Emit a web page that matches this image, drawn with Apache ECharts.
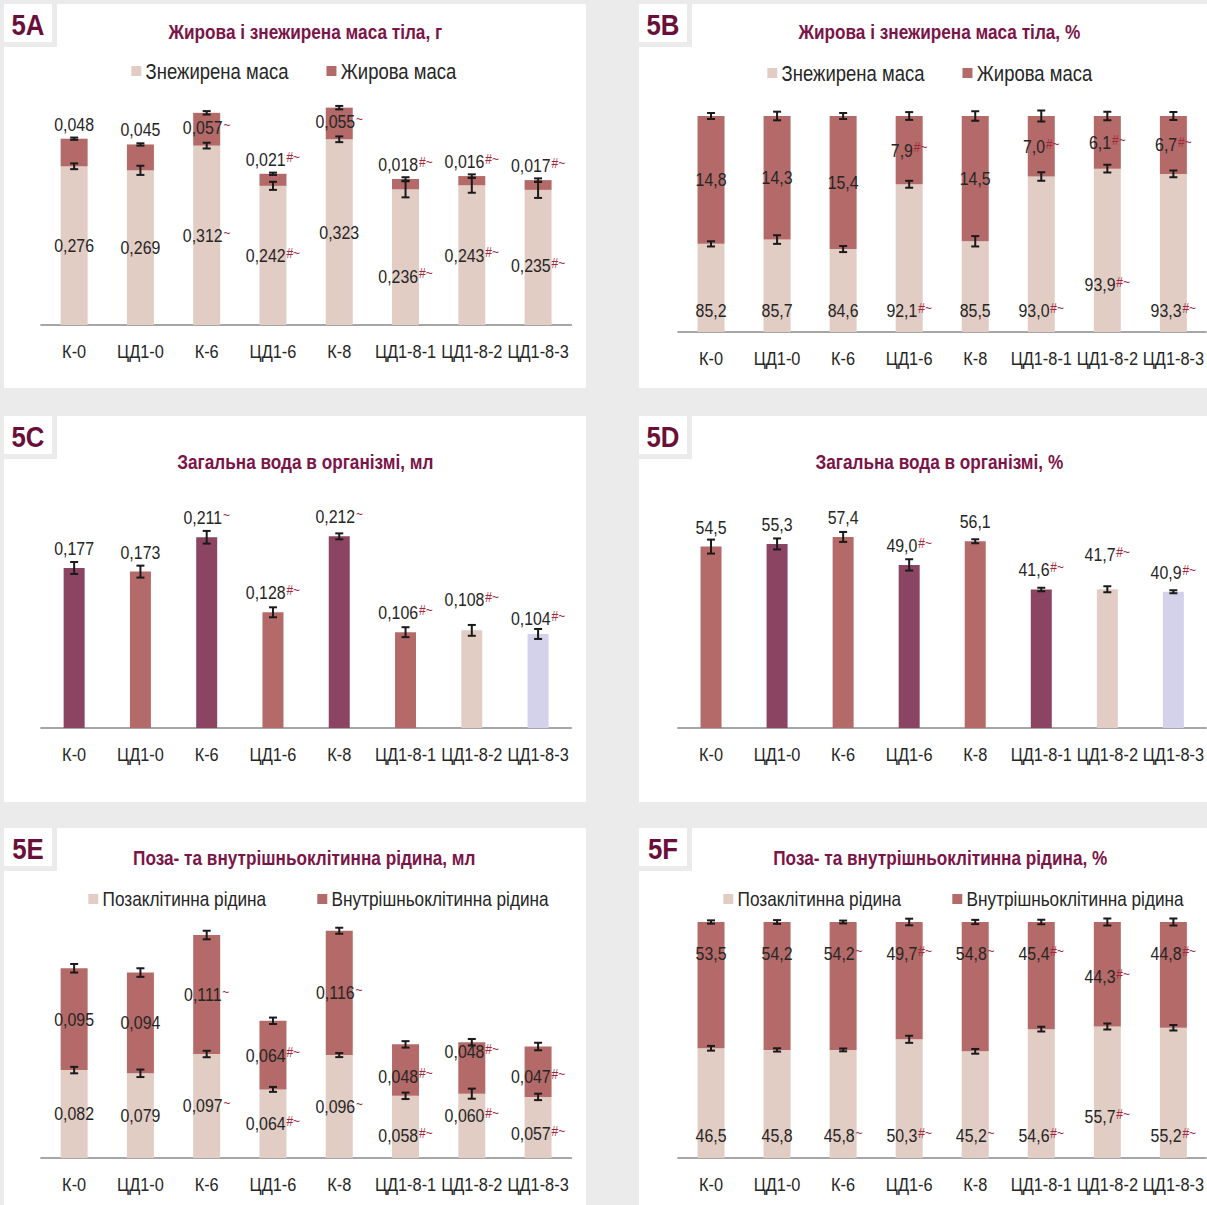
<!DOCTYPE html>
<html>
<head>
<meta charset="utf-8">
<title>Рис. 5</title>
<script src="https://cdn.jsdelivr.net/npm/echarts@6/dist/echarts.min.js"></script>
<style>
  body { margin: 0; background: #ebebeb; width: 1207px; height: 1205px; position: relative; overflow: hidden; }
  .panel { position: absolute; background: #fff; overflow: hidden; }
  .inner { transform-origin: 0 0; }
</style>
</head>
<body>
<div class="panel" style="left:4px;top:4px;width:582px;height:384px"><div id="pA" class="inner"></div></div>
<div class="panel" style="left:639px;top:4px;width:568px;height:384px"><div id="pB" class="inner"></div></div>
<div class="panel" style="left:4px;top:416px;width:582px;height:386px"><div id="pC" class="inner"></div></div>
<div class="panel" style="left:639px;top:416px;width:568px;height:386px"><div id="pD" class="inner"></div></div>
<div class="panel" style="left:4px;top:828px;width:582px;height:377px"><div id="pE" class="inner"></div></div>
<div class="panel" style="left:639px;top:828px;width:568px;height:377px"><div id="pF" class="inner"></div></div>

<script>
  // групи
  var categories = ['К-0', 'ЦД1-0', 'К-6', 'ЦД1-6', 'К-8', 'ЦД1-8-1', 'ЦД1-8-2', 'ЦД1-8-3'];

  // 5A: маса тіла, г
  var leanMassG = [0.276, 0.269, 0.312, 0.242, 0.323, 0.236, 0.243, 0.235];
  var leanMassGErr = [0.005, 0.008, 0.005, 0.007, 0.005, 0.014, 0.013, 0.014];
  var leanMassGMark = ['', '', '~', '#~', '', '#~', '#~', '#~'];
  var fatMassG = [0.048, 0.045, 0.057, 0.021, 0.055, 0.018, 0.016, 0.017];
  var fatMassGErr = [0.002, 0.002, 0.003, 0.002, 0.003, 0.003, 0.003, 0.003];
  var fatMassGMark = ['', '', '~', '#~', '~', '#~', '#~', '#~'];

  // 5B: маса тіла, %
  var leanMassPct = [85.2, 85.7, 84.6, 92.1, 85.5, 93.0, 93.9, 93.3];
  var leanMassPctErr = [0.3, 0.5, 0.35, 0.4, 0.6, 0.5, 0.45, 0.4];
  var leanMassPctMark = ['', '', '', '#~', '', '#~', '#~', '#~'];
  var fatMassPct = [14.8, 14.3, 15.4, 7.9, 14.5, 7.0, 6.1, 6.7];
  var fatMassPctErr = [0.35, 0.5, 0.35, 0.45, 0.55, 0.65, 0.5, 0.45];
  var fatMassPctMark = ['', '', '', '#~', '', '#~', '#~', '#~'];

  // 5C: загальна вода, мл
  var waterMl = [0.177, 0.173, 0.211, 0.128, 0.212, 0.106, 0.108, 0.104];
  var waterMlErr = [0.0066, 0.0066, 0.007, 0.0055, 0.0033, 0.0055, 0.006, 0.0055];
  var waterMlMark = ['', '', '~', '#~', '~', '#~', '#~', '#~'];

  // 5D: загальна вода, %
  var waterPct = [54.5, 55.3, 57.4, 49.0, 56.1, 41.6, 41.7, 40.9];
  var waterPctErr = [2.1, 1.65, 1.5, 1.7, 0.6, 0.5, 0.9, 0.45];
  var waterPctMark = ['', '', '', '#~', '', '#~', '#~', '#~'];

  // 5E: рідина, мл
  var extraMl = [0.082, 0.079, 0.097, 0.064, 0.096, 0.058, 0.060, 0.057];
  var extraMlErr = [0.003, 0.0035, 0.003, 0.0023, 0.0019, 0.003, 0.0047, 0.003];
  var extraMlMark = ['', '', '~', '#~', '~', '#~', '#~', '#~'];
  var intraMl = [0.095, 0.094, 0.111, 0.064, 0.116, 0.048, 0.048, 0.047];
  var intraMlErr = [0.004, 0.004, 0.004, 0.003, 0.0028, 0.003, 0.003, 0.0035];
  var intraMlMark = ['', '', '~', '#~', '~', '#~', '#~', '#~'];

  // 5F: рідина, %
  var extraPct = [46.5, 45.8, 45.8, 50.3, 45.2, 54.6, 55.7, 55.2];
  var extraPctErr = [1.0, 0.7, 0.6, 1.5, 1.0, 1.0, 1.3, 1.2];
  var extraPctMark = ['', '', '~', '#~', '~', '#~', '#~', '#~'];
  var intraPct = [53.5, 54.2, 54.2, 49.7, 54.8, 45.4, 44.3, 44.8];
  var intraPctErr = [0.7, 0.8, 0.6, 1.4, 0.9, 1.0, 1.5, 1.5];
  var intraPctMark = ['', '', '~', '#~', '~', '#~', '#~', '#~'];

  // кольори
  var plum = '#8b4563', rose = '#b46a68', blush = '#e2cdc5', lilac = '#d4d2ea';
  var FONT = "'Liberation Sans', Arial, sans-serif";
  var TEXT = '#262626';
  // горизонтальне стиснення, щоб шрифт виглядав як Arial Narrow
  var S = 0.86;

  function fmt(v, d) {
    return v.toFixed(d).replace('.', ',');
  }

  var rich = {
    v: { fontSize: 18.5, color: TEXT, fontFamily: FONT },
    s: { fontSize: 14, color: '#a3283c', fontFamily: FONT, verticalAlign: 'top', padding: [0, 0, 0, 1] }
  };

  function labelled(vals, marks, d, pos, dist, shift) {
    return vals.map(function (v, i) {
      var p = Array.isArray(pos) ? pos[i] : pos;
      return {
        value: v,
        label: {
          show: true,
          position: p,
          distance: dist,
          offset: [0, shift ? shift[i] : 0],
          formatter: '{v|' + fmt(v, d) + '}' + (marks[i] ? '{s|' + marks[i] + '}' : ''),
          rich: rich
        }
      };
    });
  }

  function errBars(tops, errs) {
    return tops.map(function (t, i) { return [i, t, errs[i]]; });
  }

  function renderErr(params, api) {
    var x = api.value(0), y = api.value(1), e = api.value(2);
    var hi = api.coord([x, y + e]);
    var lo = api.coord([x, y - e]);
    var w = 4 / S;
    var st = { stroke: '#1a1a1a', lineWidth: 2 };
    return {
      type: 'group',
      children: [
        { type: 'line', shape: { x1: hi[0], y1: hi[1], x2: lo[0], y2: lo[1] }, style: { stroke: '#1a1a1a', lineWidth: 2 / S } },
        { type: 'line', shape: { x1: hi[0] - w, y1: hi[1], x2: hi[0] + w, y2: hi[1] }, style: st },
        { type: 'line', shape: { x1: lo[0] - w, y1: lo[1], x2: lo[0] + w, y2: lo[1] }, style: st }
      ]
    };
  }

  function tagBox(tag) {
    return [
      { type: 'rect', left: 0, top: 0, shape: { width: 53 / S, height: 43 }, style: { fill: '#ebebeb' } },
      { type: 'rect', left: 0, top: 0, shape: { width: 48 / S, height: 38 }, style: { fill: '#fff' } },
      { type: 'text', x: 24 / S, y: 21, style: { text: tag, font: 'bold 30px ' + FONT, fill: '#6a0f3a', textAlign: 'center', textVerticalAlign: 'middle' } }
    ];
  }

  function mount(id) {
    var el = document.getElementById(id);
    var box = el.parentNode;
    el.style.width = (box.clientWidth / S) + 'px';
    el.style.height = box.clientHeight + 'px';
    el.style.transform = 'scaleX(' + S + ')';
    return echarts.init(el, null, { renderer: 'svg' });
  }

  function baseOption(c) {
    return {
      animation: false,
      graphic: tagBox(c.tag),
      title: {
        text: c.title, left: c.titleX / S, top: c.titleY, textAlign: 'center',
        textStyle: { fontFamily: FONT, fontSize: 20, fontWeight: 'bold', color: '#7b1548' }
      },
      grid: { left: c.grid.left / S, right: c.grid.right / S, top: c.grid.top, bottom: c.grid.bottom },
      xAxis: {
        type: 'category', data: categories,
        axisLine: { lineStyle: { color: '#a6a6a6', width: 2 } },
        axisTick: { show: false },
        axisLabel: { fontFamily: FONT, fontSize: 19, color: TEXT, margin: 17, interval: 0 }
      },
      yAxis: { type: 'value', min: c.min, max: c.max, show: false, splitLine: { show: false } }
    };
  }

  function stacked(id, c) {
    var chart = mount(id);
    var opt = baseOption(c);
    var totals = c.bottom.vals.map(function (v, i) { return v + c.top.vals[i]; });
    opt.legend = {
      data: [c.names[0], c.names[1]], left: c.legendLeft / S, top: c.legendTop, itemGap: c.legendGap / S,
      width: 520 / S,
      icon: 'rect', itemWidth: 10 / S, itemHeight: 10, itemStyle: { borderWidth: 0 },
      textStyle: { fontFamily: FONT, fontSize: c.legendSize, color: TEXT }
    };
    opt.series = [
      {
        name: c.names[0], type: 'bar', stack: 's', barWidth: c.barWidth / S,
        itemStyle: { color: blush },
        data: labelled(c.bottom.vals, c.bottom.mark, c.dec, c.bottom.pos, c.bottom.dist, c.bottom.shift)
      },
      {
        name: c.names[1], type: 'bar', stack: 's', barWidth: c.barWidth / S,
        itemStyle: { color: rose },
        data: labelled(c.top.vals, c.top.mark, c.dec, c.top.pos, c.top.dist, c.top.shift)
      },
      { type: 'custom', name: 'sd1', renderItem: renderErr, data: errBars(c.bottom.vals, c.bottom.err), z: 5 },
      { type: 'custom', name: 'sd2', renderItem: renderErr, data: errBars(totals, c.top.err), z: 5 }
    ];
    chart.setOption(opt);
  }

  function single(id, c) {
    var chart = mount(id);
    var opt = baseOption(c);
    var items = labelled(c.vals, c.mark, c.dec, 'top', 10, c.shift);
    items.forEach(function (it, i) { it.itemStyle = { color: c.colors[i] }; });
    opt.series = [
      { type: 'bar', barWidth: 21 / S, data: items },
      { type: 'custom', renderItem: renderErr, data: errBars(c.vals, c.err), z: 5 }
    ];
    chart.setOption(opt);
  }

  stacked('pA', {
    tag: '5A', title: 'Жирова і знежирена маса тіла, г', titleX: 297, titleY: 13,
    names: ['Знежирена маса', 'Жирова маса'], legendLeft: 123, legendTop: 51, legendGap: 38, legendSize: 21.5,
    grid: { left: 37, right: 15, top: 91, bottom: 63 }, min: 0, max: 0.4, barWidth: 27, dec: 3,
    bottom: { vals: leanMassG, err: leanMassGErr, mark: leanMassGMark, pos: 'inside', dist: 5,
      shift: [0, 0, 0, 0, 0, 19, 0, 8] },
    top: { vals: fatMassG, err: fatMassGErr, mark: fatMassGMark,
      pos: ['top', 'top', 'inside', 'top', 'inside', 'top', 'top', 'top'], dist: 5,
      shift: [0, 0, -2, 0, -2, 0, 0, 0] }
  });

  stacked('pB', {
    tag: '5B', title: 'Жирова і знежирена маса тіла, %', titleX: 296, titleY: 13,
    names: ['Знежирена маса', 'Жирова маса'], legendLeft: 124, legendTop: 53, legendGap: 38, legendSize: 21.5,
    grid: { left: 39, right: 0, top: 112, bottom: 56 }, min: 75, max: 100, barWidth: 27, dec: 1,
    bottom: { vals: leanMassPct, err: leanMassPctErr, mark: leanMassPctMark, pos: 'insideBottom', dist: 12,
      shift: [0, 0, 0, 0, 0, 0, -26, 0] },
    top: { vals: fatMassPct, err: fatMassPctErr, mark: fatMassPctMark, pos: 'inside', dist: 5,
      shift: [0, 0, 0, 0, 0, 0, 0, 0] }
  });

  single('pC', {
    tag: '5C', title: 'Загальна вода в організмі, мл', titleX: 297, titleY: 31,
    grid: { left: 37, right: 15, top: 86, bottom: 74 }, min: 0, max: 0.25, dec: 3,
    vals: waterMl, err: waterMlErr, mark: waterMlMark,
    colors: [plum, rose, plum, rose, plum, rose, blush, lilac],
    shift: [0, 0, 0, 0, 0, 0, -11, 4]
  });

  single('pD', {
    tag: '5D', title: 'Загальна вода в організмі, %', titleX: 296, titleY: 31,
    grid: { left: 39, right: 0, top: 79, bottom: 74 }, min: 0, max: 70, dec: 1,
    vals: waterPct, err: waterPctErr, mark: waterPctMark,
    colors: [rose, plum, rose, plum, rose, plum, blush, lilac],
    shift: [0, 0, 0, 0, 0, 0, -15, 0]
  });

  stacked('pE', {
    tag: '5E', title: 'Поза- та внутрішньоклітинна рідина, мл', titleX: 296, titleY: 15,
    names: ['Позаклітинна рідина', 'Внутрішньоклітинна рідина'], legendLeft: 80, legendTop: 56, legendGap: 51, legendSize: 20,
    grid: { left: 37, right: 15, top: 62, bottom: 47 }, min: 0, max: 0.25, barWidth: 27, dec: 3,
    bottom: { vals: extraMl, err: extraMlErr, mark: extraMlMark, pos: 'inside', dist: 5,
      shift: [0, 0, 0, 0, 0, 9, -10, 6] },
    top: { vals: intraMl, err: intraMlErr, mark: intraMlMark, pos: 'inside', dist: 5,
      shift: [0, 0, 0, 0, 0, 6, -16, 5] }
  });

  stacked('pF', {
    tag: '5F', title: 'Поза- та внутрішньоклітинна рідина, %', titleX: 297, titleY: 15,
    names: ['Позаклітинна рідина', 'Внутрішньоклітинна рідина'], legendLeft: 80, legendTop: 56, legendGap: 51, legendSize: 20,
    grid: { left: 39, right: 0, top: 94, bottom: 47 }, min: 0, max: 100, barWidth: 27, dec: 1,
    bottom: { vals: extraPct, err: extraPctErr, mark: extraPctMark, pos: 'insideBottom', dist: 13,
      shift: [0, 0, 0, 0, 0, 0, -19, 0] },
    top: { vals: intraPct, err: intraPctErr, mark: intraPctMark, pos: 'insideTop', dist: 22,
      shift: [0, 0, 0, 0, 0, 0, 23, 0] }
  });
</script>
</body>
</html>
